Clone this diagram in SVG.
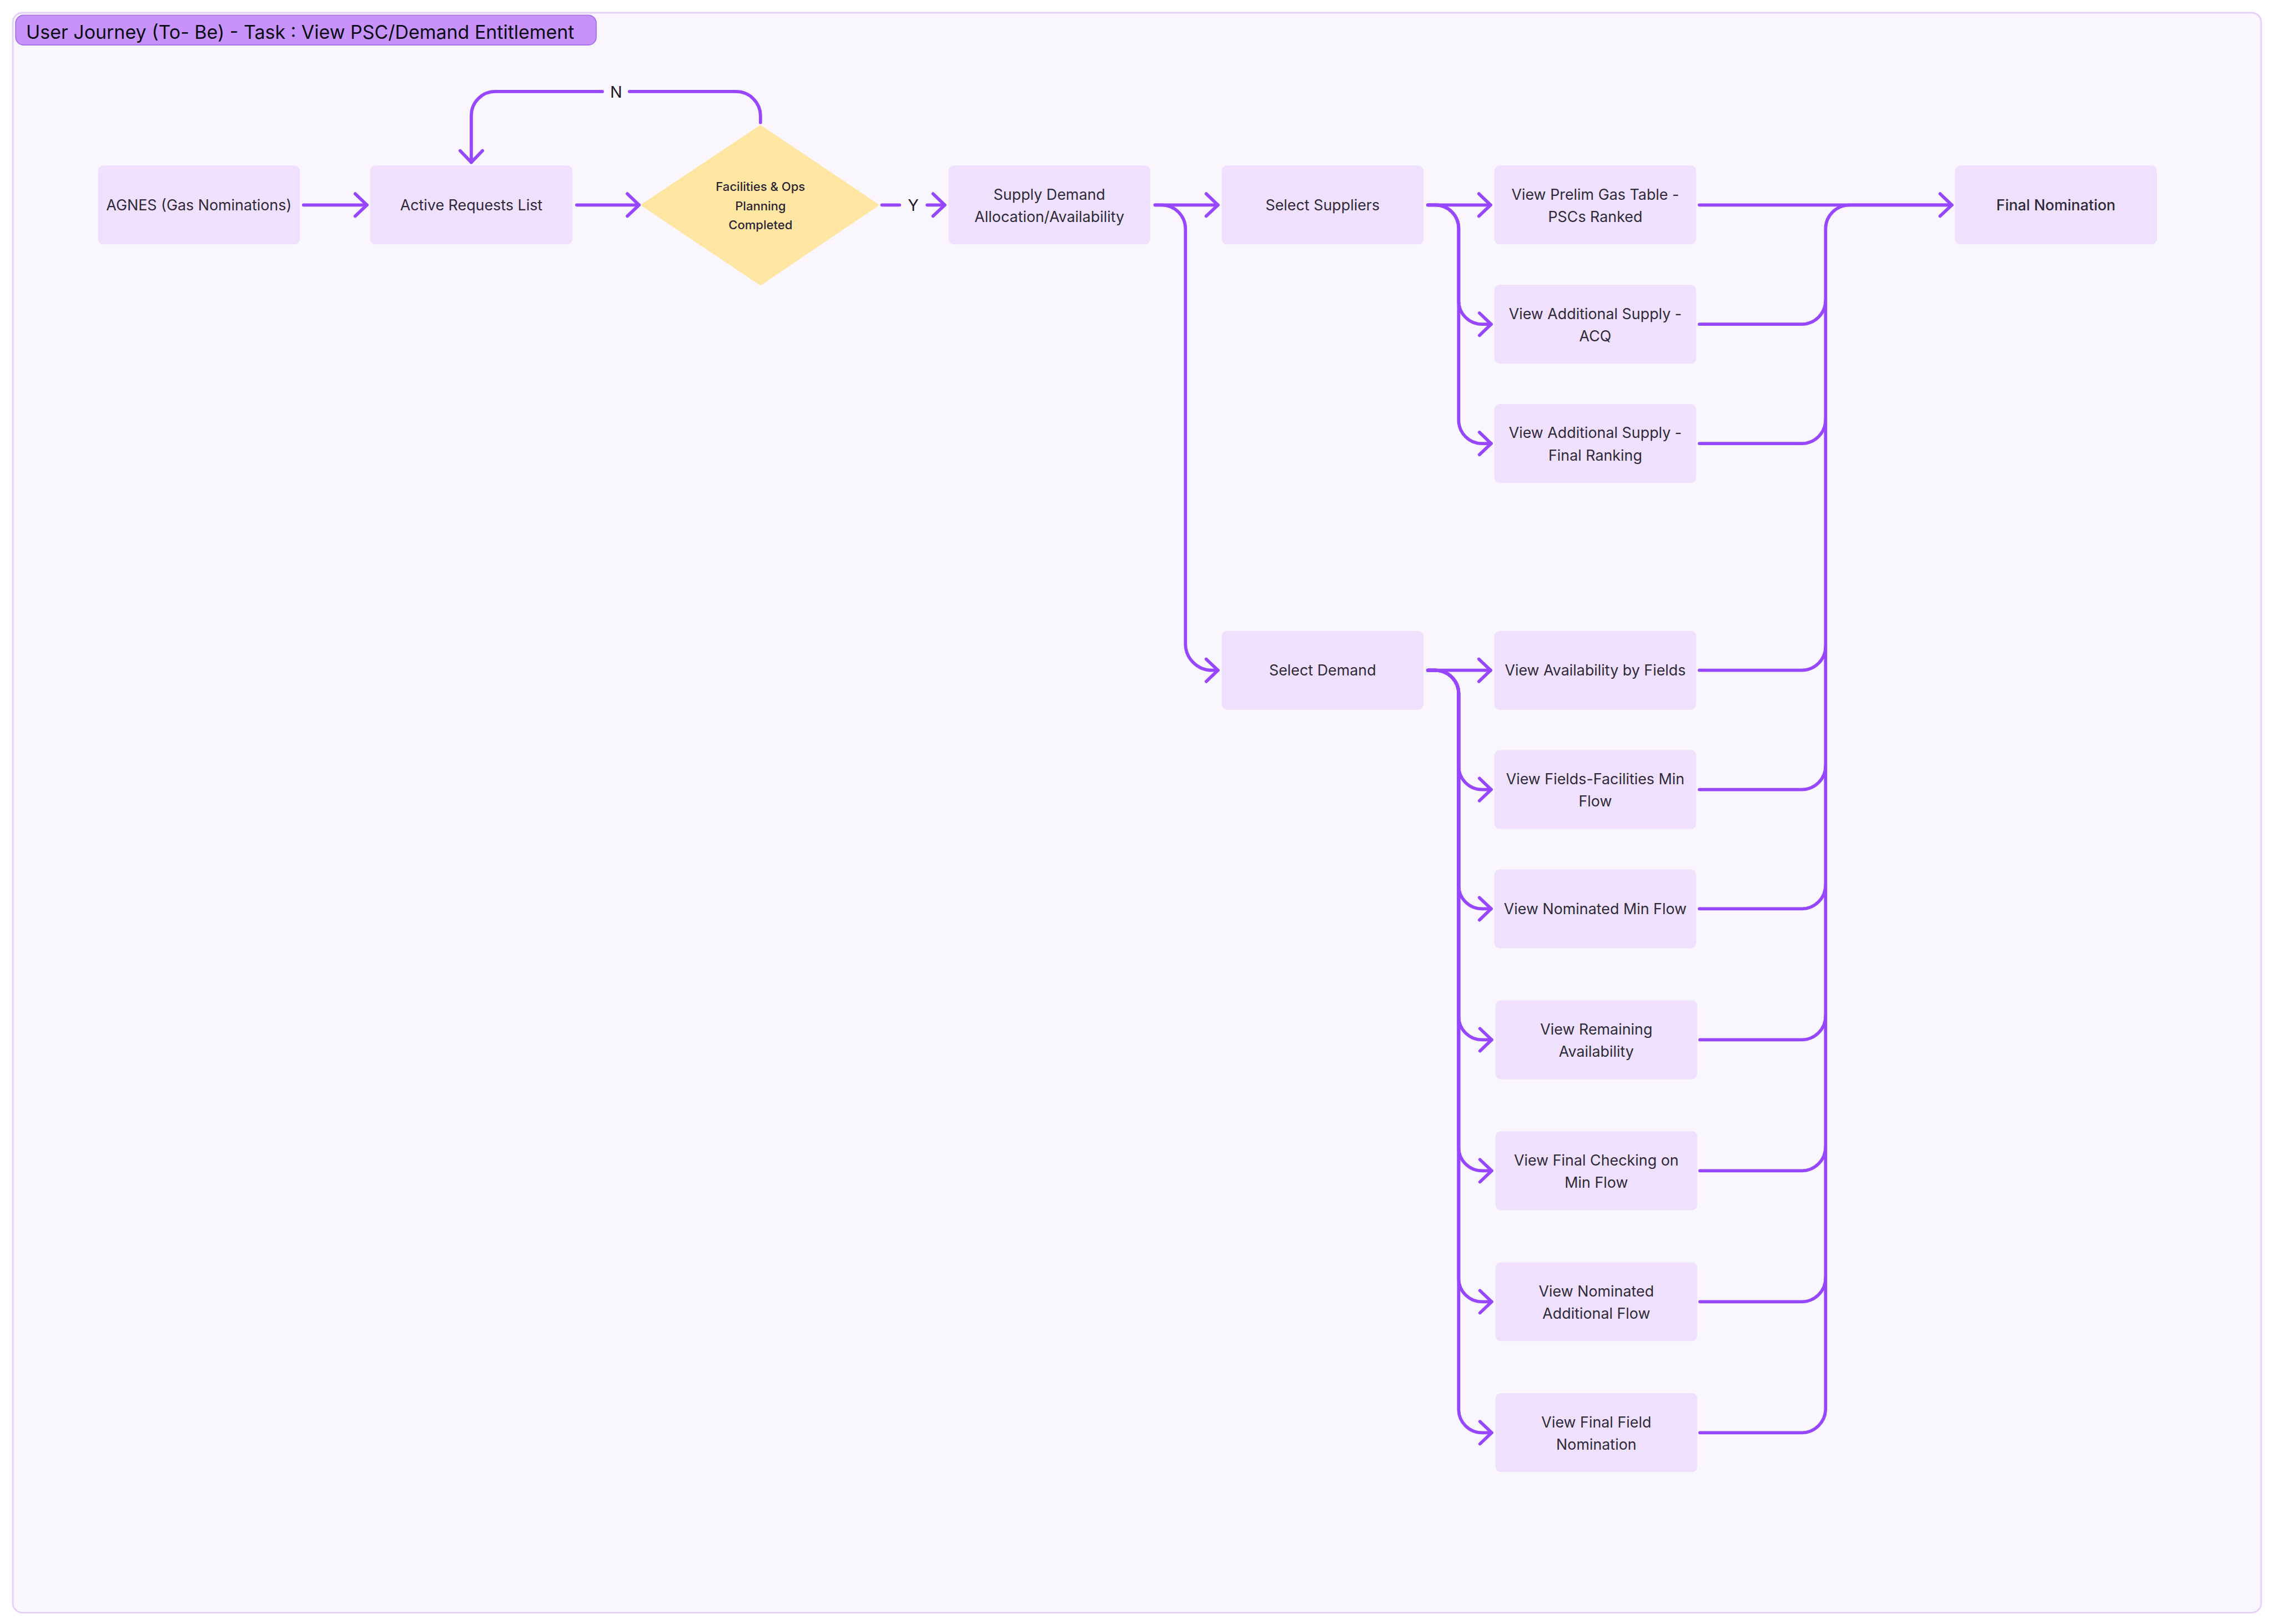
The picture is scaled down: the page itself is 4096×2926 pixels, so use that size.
<svg xmlns="http://www.w3.org/2000/svg" width="4096" height="2926" viewBox="0 0 4096 2926">
<style>
.box{fill:#EFE1FD;}
.t{font-family:Inter,"Liberation Sans",sans-serif;font-size:28px;fill:#2E2A38;text-anchor:middle;}
.tb{font-weight:500;}
.dt{font-family:Inter,"Liberation Sans",sans-serif;font-size:23px;font-weight:500;fill:#2A2533;text-anchor:middle;}
.lbl{font-family:Inter,"Liberation Sans",sans-serif;font-size:30px;fill:#1E1A26;text-anchor:middle;}
.c{fill:none;stroke:#9747FF;stroke-width:6;stroke-linecap:round;stroke-linejoin:round;}
</style>
<defs>
<marker id="arr" markerUnits="userSpaceOnUse" markerWidth="40" markerHeight="60" viewBox="-30 -30 40 60" refX="0" refY="0" orient="auto" overflow="visible">
<path d="M-22,-21 L0,0 L-22,21" fill="none" stroke="#9747FF" stroke-width="6" stroke-linecap="round" stroke-linejoin="round"/>
</marker>
</defs>
<rect width="4096" height="2926" fill="#FFFFFF"/>
<g transform="scale(0.95925)">
<rect id="frame" x="24" y="24" width="4222" height="3005" rx="18" fill="#F9F6FE" stroke="#E3D1F7" stroke-width="3"/>
<g id="title">
<rect x="29.5" y="28.5" width="1090" height="56" rx="15" fill="#C792F9" stroke="#A674E8" stroke-width="2"/>
<text x="49" y="73" font-family="Inter,'Liberation Sans',sans-serif" font-size="35.4" fill="#0B0B14">User Journey (To- Be) - Task : View PSC/Demand Entitlement</text>
</g>
<g id="connectors">
<path class="c" d="M570 385 H689" marker-end="url(#arr)"/>
<path class="c" d="M1083 385 H1200" marker-end="url(#arr)"/>
<path class="c" d="M1656 385 H1689"/>
<path class="c" d="M1741 385 H1774" marker-end="url(#arr)"/>
<path class="c" d="M1428 230 V218 A46 46 0 0 0 1382 172 H1182"/>
<path class="c" d="M1131 172 H930 A45 45 0 0 0 885 217 V305" marker-end="url(#arr)"/>
<path class="c" d="M2169 385 H2287" marker-end="url(#arr)"/>
<path class="c" d="M2169 385 H2181 A45 45 0 0 1 2226 430 V1209 A50 50 0 0 0 2276 1259 H2287" marker-end="url(#arr)"/>
<path class="c" d="M2681 385 H2799" marker-end="url(#arr)"/>
<path class="c" d="M2681 385 H2695 A44 44 0 0 1 2739 429 V565 A44 44 0 0 0 2783 609 H2800" marker-end="url(#arr)"/>
<path class="c" d="M2681 385 H2695 A44 44 0 0 1 2739 429 V789 A44 44 0 0 0 2783 833 H2800" marker-end="url(#arr)"/>
<path class="c" d="M2681 1259 H2799" marker-end="url(#arr)"/>
<path class="c" d="M2681 1259 H2695 A44 44 0 0 1 2739 1303 V1439 A44 44 0 0 0 2783 1483 H2800" marker-end="url(#arr)"/>
<path class="c" d="M2681 1259 H2695 A44 44 0 0 1 2739 1303 V1663 A44 44 0 0 0 2783 1707 H2800" marker-end="url(#arr)"/>
<path class="c" d="M2681 1259 H2695 A44 44 0 0 1 2739 1303 V1909 A44 44 0 0 0 2783 1953 H2801" marker-end="url(#arr)"/>
<path class="c" d="M2681 1259 H2695 A44 44 0 0 1 2739 1303 V2155 A44 44 0 0 0 2783 2199 H2801" marker-end="url(#arr)"/>
<path class="c" d="M2681 1259 H2695 A44 44 0 0 1 2739 1303 V2401 A44 44 0 0 0 2783 2445 H2801" marker-end="url(#arr)"/>
<path class="c" d="M2681 1259 H2695 A44 44 0 0 1 2739 1303 V2647 A44 44 0 0 0 2783 2691 H2801" marker-end="url(#arr)"/>
<path class="c" d="M3191 385 H3665" marker-end="url(#arr)"/>
<path class="c" d="M3192 2691 H3383 A45 45 0 0 0 3428 2646 V430 A45 45 0 0 1 3473 385 H3665"/>
<path class="c" d="M3191 609 H3383 A45 45 0 0 0 3428 564"/>
<path class="c" d="M3191 833 H3383 A45 45 0 0 0 3428 788"/>
<path class="c" d="M3191 1259 H3383 A45 45 0 0 0 3428 1214"/>
<path class="c" d="M3191 1483 H3383 A45 45 0 0 0 3428 1438"/>
<path class="c" d="M3191 1707 H3383 A45 45 0 0 0 3428 1662"/>
<path class="c" d="M3192 1953 H3383 A45 45 0 0 0 3428 1908"/>
<path class="c" d="M3192 2199 H3383 A45 45 0 0 0 3428 2154"/>
<path class="c" d="M3192 2445 H3383 A45 45 0 0 0 3428 2400"/>
<text class="lbl" x="1157" y="183">N</text>
<text class="lbl" x="1715" y="396">Y</text>
</g>
<g id="n-agnes"><rect class="box" x="184" y="311" width="379" height="148" rx="10"/><text class="t" x="373.5" y="395">AGNES (Gas Nominations)</text></g>
<g id="n-active"><rect class="box" x="695" y="311" width="380" height="148" rx="10"/><text class="t" x="885" y="395">Active Requests List</text></g>
<g id="n-decision"><polygon points="1428,237 1648,385 1428,534 1206,385" fill="#FFE7A3" stroke="#FFE7A3" stroke-width="4" stroke-linejoin="round"/><text class="dt" x="1428" y="359">Facilities &amp; Ops</text><text class="dt" x="1428" y="395">Planning</text><text class="dt" x="1428" y="431">Completed</text></g>
<g id="n-supply-demand"><rect class="box" x="1781" y="311" width="379" height="148" rx="10"/><text class="t" x="1970.5" y="375">Supply Demand</text><text class="t" x="1970.5" y="417">Allocation/Availability</text></g>
<g id="n-select-suppliers"><rect class="box" x="2294" y="311" width="379" height="148" rx="10"/><text class="t" x="2483.5" y="395">Select Suppliers</text></g>
<g id="n-select-demand"><rect class="box" x="2294" y="1185" width="379" height="148" rx="10"/><text class="t" x="2483.5" y="1269">Select Demand</text></g>
<g id="n-prelim"><rect class="box" x="2806" y="311" width="379" height="148" rx="10"/><text class="t" x="2995.5" y="375">View Prelim Gas Table -</text><text class="t" x="2995.5" y="417">PSCs Ranked</text></g>
<g id="n-acq"><rect class="box" x="2806" y="535" width="379" height="148" rx="10"/><text class="t" x="2995.5" y="599">View Additional Supply -</text><text class="t" x="2995.5" y="641">ACQ</text></g>
<g id="n-final-ranking"><rect class="box" x="2806" y="759" width="379" height="148" rx="10"/><text class="t" x="2995.5" y="823">View Additional Supply -</text><text class="t" x="2995.5" y="865">Final Ranking</text></g>
<g id="n-availability"><rect class="box" x="2806" y="1185" width="379" height="148" rx="10"/><text class="t" x="2995.5" y="1269">View Availability by Fields</text></g>
<g id="n-fields-facilities"><rect class="box" x="2806" y="1409" width="379" height="148" rx="10"/><text class="t" x="2995.5" y="1473">View Fields-Facilities Min</text><text class="t" x="2995.5" y="1515">Flow</text></g>
<g id="n-nominated-min"><rect class="box" x="2806" y="1633" width="379" height="148" rx="10"/><text class="t" x="2995.5" y="1717">View Nominated Min Flow</text></g>
<g id="n-remaining"><rect class="box" x="2808" y="1879" width="379" height="148" rx="10"/><text class="t" x="2997.5" y="1943">View Remaining</text><text class="t" x="2997.5" y="1985">Availability</text></g>
<g id="n-final-checking"><rect class="box" x="2808" y="2125" width="379" height="148" rx="10"/><text class="t" x="2997.5" y="2189">View Final Checking on</text><text class="t" x="2997.5" y="2231">Min Flow</text></g>
<g id="n-nominated-additional"><rect class="box" x="2808" y="2371" width="379" height="148" rx="10"/><text class="t" x="2997.5" y="2435">View Nominated</text><text class="t" x="2997.5" y="2477">Additional Flow</text></g>
<g id="n-final-field"><rect class="box" x="2808" y="2617" width="379" height="148" rx="10"/><text class="t" x="2997.5" y="2681">View Final Field</text><text class="t" x="2997.5" y="2723">Nomination</text></g>
<g id="n-final-nomination"><rect class="box" x="3671" y="311" width="379" height="148" rx="10"/><text class="t tb" x="3860.5" y="395">Final Nomination</text></g>
</g>
</svg>
